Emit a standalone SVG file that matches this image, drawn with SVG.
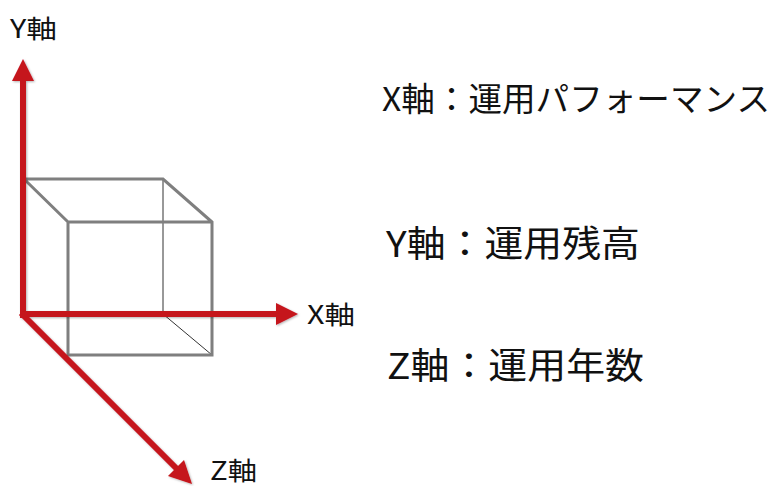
<svg xmlns="http://www.w3.org/2000/svg" width="775" height="486" viewBox="0 0 775 486">
<defs>
<style>
.edge{fill:none;stroke:#7f7f7f;stroke-width:3}
.thin{fill:none;stroke:#333;stroke-width:1}
.axis{fill:none;stroke:#c5131a;stroke-width:6}
.head{fill:#c5131a}
.lbl{font-family:"Noto Sans CJK JP","Liberation Sans",sans-serif;fill:#111}
</style>
<filter id="sh" x="-10%" y="-10%" width="130%" height="130%">
<feDropShadow dx="1" dy="1" stdDeviation="1.2" flood-color="#000" flood-opacity="0.3"/>
</filter>
</defs>
<g id="cube">
<line class="thin" x1="163" y1="179" x2="163" y2="314"/>
<line class="thin" x1="163" y1="314" x2="212" y2="355"/>
<path class="edge" d="M24,179 H163 L212,222 V355 H68 V222 H212 M24,179 L68,222"/>
</g>
<g id="connectors" filter="url(#sh)">
<g id="y-axis">
<line class="axis" x1="23" y1="318" x2="23" y2="78"/>
<polygon class="head" points="23,59 12,81 34,81"/>
</g>
<g id="x-axis">
<line class="axis" x1="20" y1="314" x2="278" y2="314"/>
<polygon class="head" points="298,314 276,303 276,325"/>
</g>
<g id="z-axis">
<line class="axis" x1="21" y1="313" x2="178" y2="470"/>
<polygon class="head" points="192,484 168,476 184,460"/>
</g>
</g>
<g id="labels">
<text class="lbl" x="10" y="38" font-size="25" textLength="47" lengthAdjust="spacingAndGlyphs">Y軸</text>
<text class="lbl" x="307" y="324" font-size="25" textLength="48" lengthAdjust="spacingAndGlyphs">X軸</text>
<text class="lbl" x="210" y="480" font-size="25" textLength="47" lengthAdjust="spacingAndGlyphs">Z軸</text>
<text class="lbl" x="382" y="111" font-size="33" textLength="388" lengthAdjust="spacingAndGlyphs">X軸：運用パフォーマンス</text>
<text class="lbl" x="386" y="257" font-size="36" textLength="254" lengthAdjust="spacingAndGlyphs">Y軸：運用残高</text>
<text class="lbl" x="387" y="379" font-size="36" textLength="257" lengthAdjust="spacingAndGlyphs">Z軸：運用年数</text>
</g>
</svg>
